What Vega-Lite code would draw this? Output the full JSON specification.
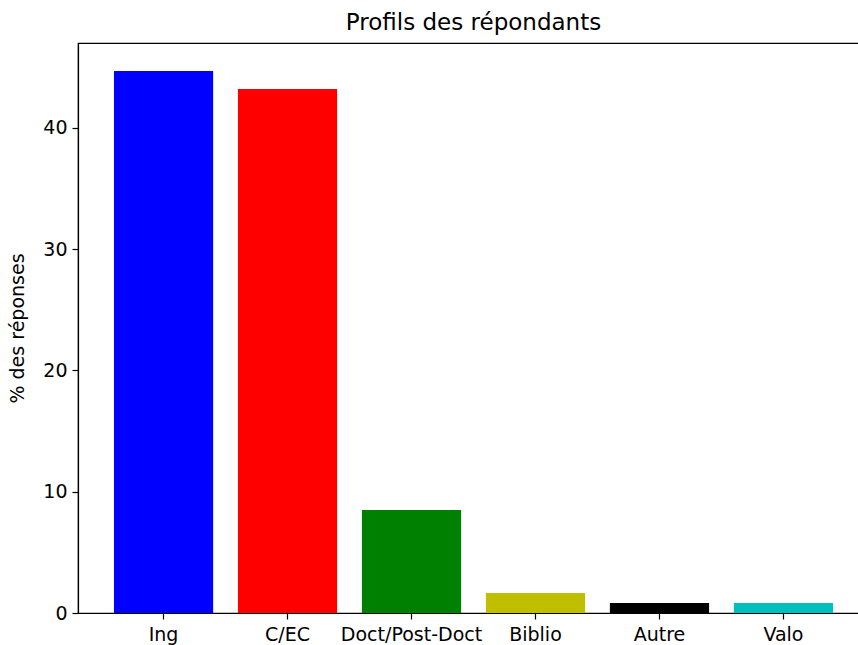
{
  "$schema": "https://vega.github.io/schema/vega-lite/v6.json",
  "width": 791,
  "height": 570,
  "autosize": {"type": "none"},
  "padding": {"left": 78, "top": 43, "right": 0, "bottom": 32},
  "background": "white",
  "title": {"text": "Profils des répondants", "font": "DejaVu Sans", "fontSize": 23, "fontWeight": "normal", "color": "#000000", "offset": 8, "anchor": "middle"},
  "config": {
    "view": {"stroke": "#000000", "strokeWidth": 1.2},
    "axis": {"labelFont": "DejaVu Sans", "titleFont": "DejaVu Sans", "labelFontSize": 19, "titleFontSize": 19, "titleFontWeight": "normal", "labelColor": "#000000", "titleColor": "#000000", "domainColor": "#000000", "tickColor": "#000000", "tickSize": 6, "domainWidth": 1.2, "tickWidth": 1.2, "grid": false}
  },
  "data": {"values": [
    {"profil": "Ing", "pct": 44.7},
    {"profil": "C/EC", "pct": 43.2},
    {"profil": "Doct/Post-Doct", "pct": 8.5},
    {"profil": "Biblio", "pct": 1.65},
    {"profil": "Autre", "pct": 0.82},
    {"profil": "Valo", "pct": 0.82}
  ]},
  "mark": {"type": "bar"},
  "encoding": {
    "x": {"field": "profil", "type": "nominal", "sort": null,
      "scale": {"paddingInner": 0.2, "paddingOuter": 0.29},
      "axis": {"title": null, "labelAngle": 0, "labelPadding": 6}},
    "y": {"field": "pct", "type": "quantitative",
      "scale": {"domain": [0, 47], "nice": false},
      "axis": {"title": "% des réponses", "values": [0, 10, 20, 30, 40], "labelPadding": 5, "titlePadding": 15}},
    "color": {"field": "profil", "type": "nominal", "sort": null,
      "scale": {"domain": ["Ing", "C/EC", "Doct/Post-Doct", "Biblio", "Autre", "Valo"], "range": ["#0000ff", "#ff0000", "#008000", "#bfbf00", "#000000", "#00bfbf"]},
      "legend": null}
  }
}
